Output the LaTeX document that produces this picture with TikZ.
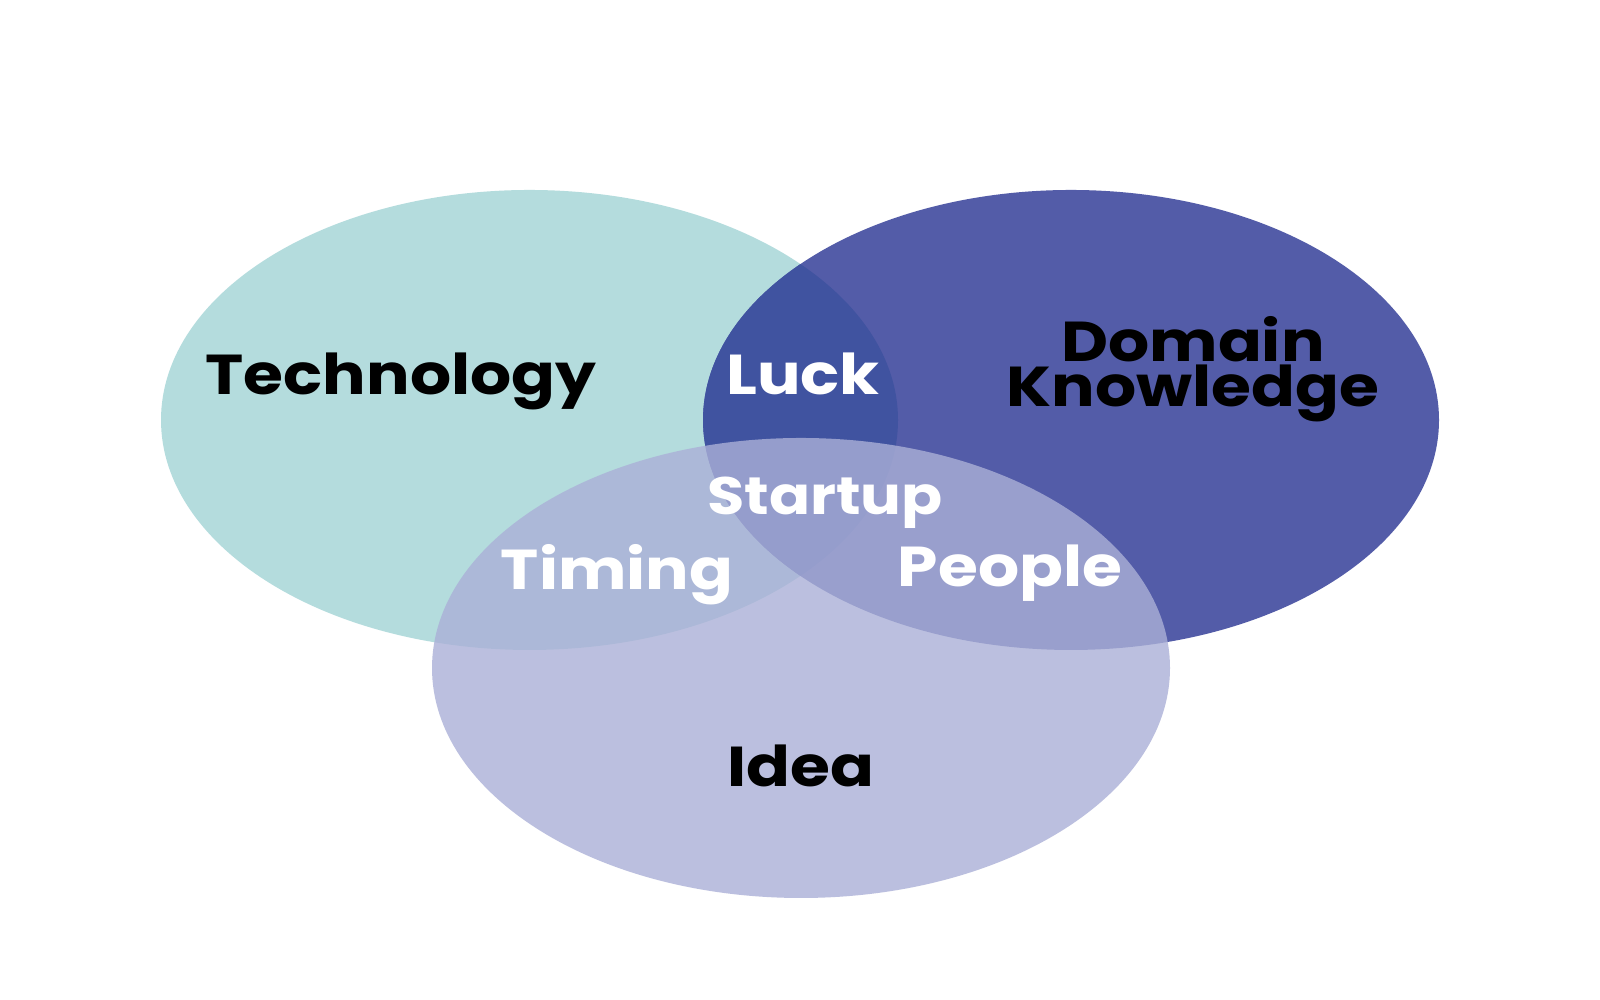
\documentclass[tikz,border=0pt]{standalone}
\usepackage{fontspec}
\setmainfont{Poppins}[BoldFeatures={FakeStretch=1.15}]
\definecolor{techfill}{RGB}{180,220,221}
\definecolor{domfill}{RGB}{83,92,168}
\definecolor{luckfill}{RGB}{64,83,160}
\definecolor{ideafill}{RGB}{171,176,215}
\tikzset{
  lab/.style={font=\fontsize{16}{12.8}\selectfont\bfseries, inner sep=0pt, anchor=base, align=center},
  darklab/.style={lab, text=black},
  lightlab/.style={lab, text=white},
}
\begin{document}
\begin{tikzpicture}
\fill[white] (0,0) rectangle (16,10);
\useasboundingbox (0,0) rectangle (16,10);
\fill[techfill] (5.295,5.80) ellipse [x radius=3.685, y radius=2.30];
\fill[domfill] (10.71,5.80) ellipse [x radius=3.68, y radius=2.30];
\begin{scope}
  \clip (5.295,5.80) ellipse [x radius=3.685, y radius=2.30];
  \fill[luckfill] (10.71,5.80) ellipse [x radius=3.68, y radius=2.30];
\end{scope}
\fill[ideafill, fill opacity=0.8] (8.01,3.32) ellipse [x radius=3.69, y radius=2.30];
\node[darklab] (tech) at (4.01,6.05) {Technology};
\node[lightlab] (luck) at (8.03,6.05) {Luck};
\node[darklab] (domain) at (11.93,5.93) {Domain\\Knowledge};
\node[lightlab, font=\fontsize{15}{12}\selectfont\bfseries] (startup) at (8.25,4.85) {Startup};
\node[lightlab] (timing) at (6.17,4.10) {Timing};
\node[lightlab] (people) at (10.10,4.13) {People};
\node[darklab] (idea) at (8.01,2.13) {Idea};
\end{tikzpicture}
\end{document}
